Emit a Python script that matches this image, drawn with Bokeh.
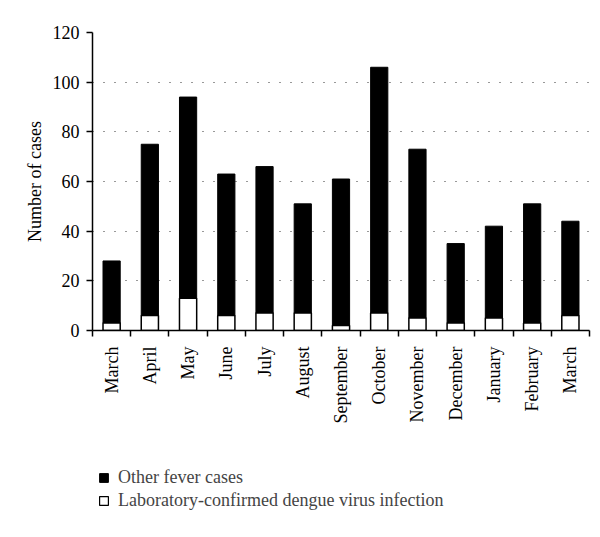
import math
from bokeh.plotting import figure
from bokeh.layouts import column
from bokeh.models import ColumnDataSource, Range1d, FixedTicker, Legend, LegendItem
from bokeh.embed import file_html
from bokeh.resources import INLINE

months = ["March", "April", "May", "June", "July", "August", "September",
          "October", "November", "December", "January", "February", "March"]
total_cases = [28, 75, 94, 63, 66, 51, 61, 106, 73, 35, 42, 51, 44]
dengue_cases = [3, 6, 13, 6, 7, 7, 2, 7, 5, 3, 5, 3, 6]
y_ticks = [0, 20, 40, 60, 80, 100, 120]
legend_labels = ["Other fever cases", "Laboratory-confirmed dengue virus infection"]

xs = list(range(1, len(months) + 1))
src = ColumnDataSource(dict(x=xs, total=total_cases, dengue=dengue_cases))

FONT = "Liberation Serif"

p = figure(frame_width=497, frame_height=298, output_backend="svg", toolbar_location=None,
           x_range=Range1d(0.5, 13.5), y_range=Range1d(0, 120),
           min_border_left=92, min_border_top=32, min_border_right=4,
           min_border_bottom=125)
p.outline_line_color = None
p.background_fill_color = "white"

r_other = p.vbar(x="x", bottom="dengue", top="total", width=0.45, source=src,
                 fill_color="black", line_color="black", line_width=1)
r_dengue = p.vbar(x="x", bottom=0, top="dengue", width=0.45, source=src,
                  fill_color="white", line_color="black", line_width=1.5)

# y axis
p.yaxis.ticker = FixedTicker(ticks=y_ticks)
p.yaxis.axis_label = "Number of cases"
p.yaxis.axis_label_text_font = FONT
p.yaxis.axis_label_text_font_style = "normal"
p.yaxis.axis_label_text_font_size = "18px"
p.yaxis.axis_label_text_color = "black"
p.yaxis.axis_label_standoff = 5
p.yaxis.major_label_text_font = FONT
p.yaxis.major_label_text_font_size = "18px"
p.yaxis.major_label_text_color = "black"
p.yaxis.major_tick_out = 6
p.yaxis.major_tick_in = 0
p.yaxis.minor_tick_out = 0
p.yaxis.minor_tick_in = 0
p.yaxis.axis_line_width = 1.5
p.yaxis.major_tick_line_width = 1.5
p.yaxis.major_label_standoff = 7

# x axis: labels at centers, ticks at boundaries
p.xaxis.ticker = FixedTicker(ticks=xs, minor_ticks=[i + 0.5 for i in range(0, len(months) + 1)])
p.xaxis.major_label_overrides = {i + 1: m for i, m in enumerate(months)}
p.xaxis.major_label_orientation = math.pi / 2
p.xaxis.major_label_text_font = FONT
p.xaxis.major_label_text_font_size = "18px"
p.xaxis.major_label_text_color = "black"
p.xaxis.major_tick_out = 0
p.xaxis.major_tick_in = 0
p.xaxis.minor_tick_out = 6
p.xaxis.minor_tick_in = 0
p.xaxis.minor_tick_line_width = 1.5
p.xaxis.axis_line_width = 1.5
p.xaxis.major_label_standoff = 10

p.xgrid.grid_line_color = None
p.ygrid.ticker = FixedTicker(ticks=y_ticks[1:])
p.ygrid.grid_line_color = "#333333"
p.ygrid.grid_line_dash = "1 10"
p.ygrid.grid_line_width = 1.2

# legend panel below the chart (hidden copies of the series provide the swatches)
p2 = figure(width=593, height=75, output_backend="svg", toolbar_location=None,
            x_range=Range1d(0.5, 13.5), y_range=Range1d(0, 120),
            x_axis_location=None, y_axis_location=None,
            min_border_left=88, min_border_right=0, min_border_top=5, min_border_bottom=0)
p2.outline_line_color = None
p2.xgrid.grid_line_color = None
p2.ygrid.grid_line_color = None
l_other = p2.vbar(x="x", bottom="dengue", top="total", width=0.45, source=src,
                  fill_color="black", line_color="black", line_width=1, visible=False)
l_dengue = p2.vbar(x="x", bottom=0, top="dengue", width=0.45, source=src,
                   fill_color="white", line_color="black", line_width=1.2, visible=False)

legend = Legend(items=[LegendItem(label=legend_labels[0], renderers=[l_other]),
                       LegendItem(label=legend_labels[1], renderers=[l_dengue])],
                location="top_left", orientation="vertical",
                label_text_font=FONT, label_text_font_size="18px",
                glyph_width=11, glyph_height=11, label_standoff=9,
                spacing=1, padding=4, margin=6, border_line_color=None,
                background_fill_alpha=0, label_height=22,
                inactive_fill_alpha=0, click_policy="none")
p2.add_layout(legend, "center")

layout = column(p, p2, spacing=0)
open("out.html", "w").write(file_html(layout, INLINE))
